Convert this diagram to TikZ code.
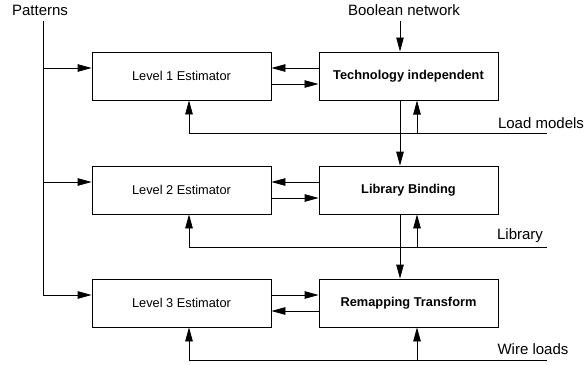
\documentclass[tikz,border=0pt]{standalone}
\usepackage{fontspec}
\setmainfont{Liberation Sans}
\usetikzlibrary{arrows.meta}
\begin{document}
\begin{tikzpicture}[x=1pt,y=-1pt,
  every node/.style={font=\fontsize{12.8}{15}\selectfont, inner sep=0pt},
  outlabel/.style={font=\fontsize{15}{18}\selectfont},
  blockbox/.style={draw, line width=0.8pt, minimum width=179pt, minimum height=48pt},
  arr/.style={line width=0.8pt, -{Triangle[length=14pt,width=7.5pt]}}]
\useasboundingbox (0,0) rectangle (586,364);

% estimator boxes (left column)
\node[blockbox] (est1) at (181.5,76) {Level 1 Estimator};
\node[blockbox] (est2) at (181.5,190) {Level 2 Estimator};
\node[blockbox] (est3) at (181.5,303) {Level 3 Estimator};

% synthesis steps (right column)
\node[blockbox, line width=1pt] (tech) at (408.5,76) {\bfseries Technology independent};
\node[blockbox] (lib) at (408.5,190) {\bfseries Library Binding};
\node[blockbox] (remap) at (408.5,303) {\bfseries Remapping Transform};

% inputs and side labels
\node[outlabel] (pat) at (40,10) {Patterns};
\node[outlabel] (bool) at (404,10) {Boolean network};
\node[outlabel] (lmlab) at (541,123) {Load models};
\node[outlabel] (liblab) at (520,236) {Library};
\node[outlabel] (wllab) at (533,349) {Wire loads};

\coordinate (spine) at (43,21);
\coordinate (bn) at (400,21);
\coordinate (lm) at (547,133);
\coordinate (lb) at (547,247);
\coordinate (wl) at (547,360);

% pattern spine feeding every estimator
\path ([yshift=8pt]est1.west) coordinate (in1)
      ([yshift=8pt]est2.west) coordinate (in2)
      ([yshift=8pt]est3.west) coordinate (in3);
\draw[arr] (spine) |- (in3);
\draw[arr] (spine |- in1) -- (in1);
\draw[arr] (spine |- in2) -- (in2);

% boolean network into the first step
\draw[arr] (bn) -- (bn |- tech.north);

% flow down the right column
\draw[arr] ([xshift=-8.5pt]tech.south) -- ([xshift=-8.5pt]lib.north);
\draw[arr] ([xshift=-8.5pt]lib.south) -- ([xshift=-8.5pt]remap.north);

% exchanges between estimators and steps
\draw[arr] ([yshift=8pt]tech.west) -- ([yshift=8pt]est1.east);
\draw[arr] ([yshift=-8pt]est1.east) -- ([yshift=-8pt]tech.west);
\draw[arr] ([yshift=8pt]lib.west) -- ([yshift=8pt]est2.east);
\draw[arr] ([yshift=-8pt]est2.east) -- ([yshift=-8pt]lib.west);
\draw[arr] ([yshift=8pt]est3.east) -- ([yshift=8pt]remap.west);
\draw[arr] ([yshift=-8pt]remap.west) -- ([yshift=-8pt]est3.east);

% model buses feeding both columns from below
\draw[arr] (lm) -| ([xshift=7.5pt]est1.south);
\draw[arr] ([xshift=8.5pt]tech.south |- lm) -- ([xshift=8.5pt]tech.south);
\draw[arr] (lb) -| ([xshift=7.5pt]est2.south);
\draw[arr] ([xshift=8.5pt]lib.south |- lb) -- ([xshift=8.5pt]lib.south);
\draw[arr] (wl) -| ([xshift=7.5pt]est3.south);
\draw[arr] ([xshift=8.5pt]remap.south |- wl) -- ([xshift=8.5pt]remap.south);
\end{tikzpicture}
\end{document}
